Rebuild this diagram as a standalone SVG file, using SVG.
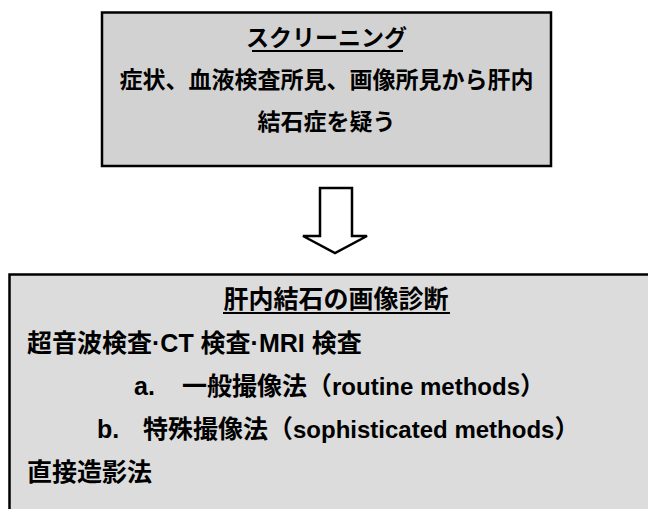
<svg xmlns="http://www.w3.org/2000/svg" width="648" height="509" viewBox="0 0 648 509">
<style>
.t{font-family:"Liberation Sans","Noto Sans CJK JP",sans-serif;font-weight:bold;fill:#000}
.top{font-size:23px}
.bot{font-size:25px}
.lat{font-size:24px}
.box{stroke:#000;stroke-width:2.5}
.ul{stroke:#000;stroke-width:2}
</style>
<rect width="648" height="509" fill="#fff"/>
<g id="screening">
<rect class="box" x="102" y="12.5" width="449" height="153.5" fill="#d2d2d2"/>
<text class="t top" x="326.5" y="46" text-anchor="middle">スクリーニング</text>
<line class="ul" x1="252" y1="51" x2="403" y2="51"/>
<text class="t top" x="326.5" y="88" text-anchor="middle">症状、血液検査所見、画像所見から肝内</text>
<text class="t top" x="326.5" y="130" text-anchor="middle">結石症を疑う</text>
</g>
<g id="connectors">
<polygon points="320,188 352,188 352,236 367,236 335,253 303,236 320,236" fill="#fff" stroke="#000" stroke-width="2.5" stroke-linejoin="miter"/>
</g>
<g id="diagnosis">
<rect class="box" x="9.5" y="274.5" width="660" height="260" fill="#dcdcdc"/>
<text class="t bot" x="336" y="308" text-anchor="middle">肝内結石の画像診断</text>
<line class="ul" x1="223" y1="313" x2="450" y2="313"/>
<text class="t bot" x="27" y="352">超音波検査·CT 検査·MRI 検査</text>
<text class="t bot" y="395"><tspan x="134">a.</tspan><tspan x="182">一般撮像法（<tspan class="lat">routine methods</tspan>）</tspan></text>
<text class="t bot" y="438"><tspan x="97">b.</tspan><tspan x="143">特殊撮像法（<tspan class="lat">sophisticated methods</tspan>）</tspan></text>
<text class="t bot" x="27" y="481">直接造影法</text>
</g>
</svg>
